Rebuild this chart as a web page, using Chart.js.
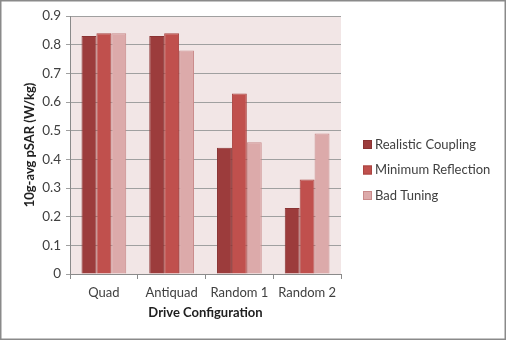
<!DOCTYPE html>
<html>
<head>
<meta charset="utf-8">
<script src="https://cdn.jsdelivr.net/npm/chart.js@4"></script>
<style>
  html, body { margin: 0; padding: 0; background: #fff; }
  #wrap { width: 506px; height: 340px; }
</style>
</head>
<body>
<div id="wrap"><canvas id="chart" width="506" height="340"></canvas></div>
<script>
// drive configurations on the x axis
const configs = ["Quad", "Antiquad", "Random 1", "Random 2"];

// peak SAR values per tuning (W/kg)
const realisticCoupling = [0.83, 0.83, 0.44, 0.23];
const minimumReflection = [0.84, 0.84, 0.63, 0.33];
const badTuning = [0.84, 0.78, 0.46, 0.49];

const yTicks = [0, 0.1, 0.2, 0.3, 0.4, 0.5, 0.6, 0.7, 0.8, 0.9];

const fontFam = "Lato, 'Open Sans', sans-serif";

// pinkish plot background, legend on the right, outer frame
const extras = {
  id: "extras",
  beforeDraw(chart) {
    const { ctx, chartArea: a } = chart;
    ctx.save();
    ctx.fillStyle = "#f2e6e6";
    ctx.fillRect(a.left, a.top, a.right - a.left, a.bottom - a.top);
    ctx.restore();
  },
  afterDraw(chart) {
    const { ctx, chartArea: a } = chart;
    const sets = chart.data.datasets;
    ctx.save();
    // legend
    const rowGap = 25.5;
    const x0 = a.right + 22;
    const yMid = chart.height / 2;
    ctx.font = "13px " + fontFam;
    ctx.textBaseline = "middle";
    sets.forEach((ds, i) => {
      const y = yMid + (i - (sets.length - 1) / 2) * rowGap;
      ctx.fillStyle = ds.backgroundColor;
      ctx.fillRect(x0, y - 4.5, 9, 9);
      ctx.strokeStyle = ds.borderColor;
      ctx.lineWidth = 1;
      ctx.strokeRect(x0 + 0.5, y - 4, 8, 8);
      ctx.fillStyle = "#404040";
      ctx.fillText(ds.label, x0 + 12, y);
    });
    // frame
    ctx.strokeStyle = "#8a8a8a";
    ctx.lineWidth = 1.5;
    ctx.strokeRect(0.75, 0.75, chart.width - 1.5, chart.height - 1.5);
    ctx.restore();
  }
};

new Chart(document.getElementById("chart").getContext("2d"), {
  type: "bar",
  data: {
    labels: configs,
    datasets: [
      {
        label: "Realistic Coupling",
        data: realisticCoupling,
        backgroundColor: "#9c3c3c",
        borderColor: "#8a3333",
        borderWidth: 1
      },
      {
        label: "Minimum Reflection",
        data: minimumReflection,
        backgroundColor: "#c0504d",
        borderColor: "#a94441",
        borderWidth: 1
      },
      {
        label: "Bad Tuning",
        data: badTuning,
        backgroundColor: "#dcaaaa",
        borderColor: "#c98a8a",
        borderWidth: 1
      }
    ]
  },
  options: {
    responsive: false,
    animation: false,
    devicePixelRatio: 1,
    layout: { padding: { top: 16, left: 0, right: 165, bottom: 19 } },
    datasets: {
      bar: { barPercentage: 1.0, categoryPercentage: 0.66 }
    },
    plugins: {
      tooltip: { enabled: false },
      legend: { display: false }
    },
    scales: {
      x: {
        grid: {
          offset: true,
          drawOnChartArea: false,
          drawTicks: true,
          tickLength: 5,
          color: "#8a8a8a"
        },
        border: { color: "#8a8a8a" },
        ticks: {
          color: "#404040",
          font: { family: fontFam, size: 13 },
          padding: 6,
          maxRotation: 0
        },
        title: {
          display: true,
          text: "Drive Configuration",
          color: "#202020",
          font: { family: fontFam, size: 13, weight: "bold" },
          padding: { top: 2, bottom: 0 }
        },
        afterFit(scale) { scale.height = 47; }
      },
      y: {
        min: 0,
        max: 0.9,
        afterBuildTicks(scale) {
          scale.ticks = yTicks.map(v => ({ value: v }));
        },
        grid: {
          color: "#a0a0a0",
          drawTicks: true,
          tickLength: 4
        },
        border: { color: "#8a8a8a" },
        ticks: {
          color: "#404040",
          font: { family: fontFam, size: 13.5 },
          padding: 5,
          callback: v => String(Math.round(v * 10) / 10)
        },
        title: {
          display: true,
          text: "10g-avg pSAR (W/kg)",
          color: "#202020",
          font: { family: fontFam, size: 13, weight: "bold" },
          padding: { top: 22, bottom: 4 }
        },
        afterFit(scale) { scale.width = 70; }
      }
    }
  },
  plugins: [extras]
});
</script>
</body>
</html>
